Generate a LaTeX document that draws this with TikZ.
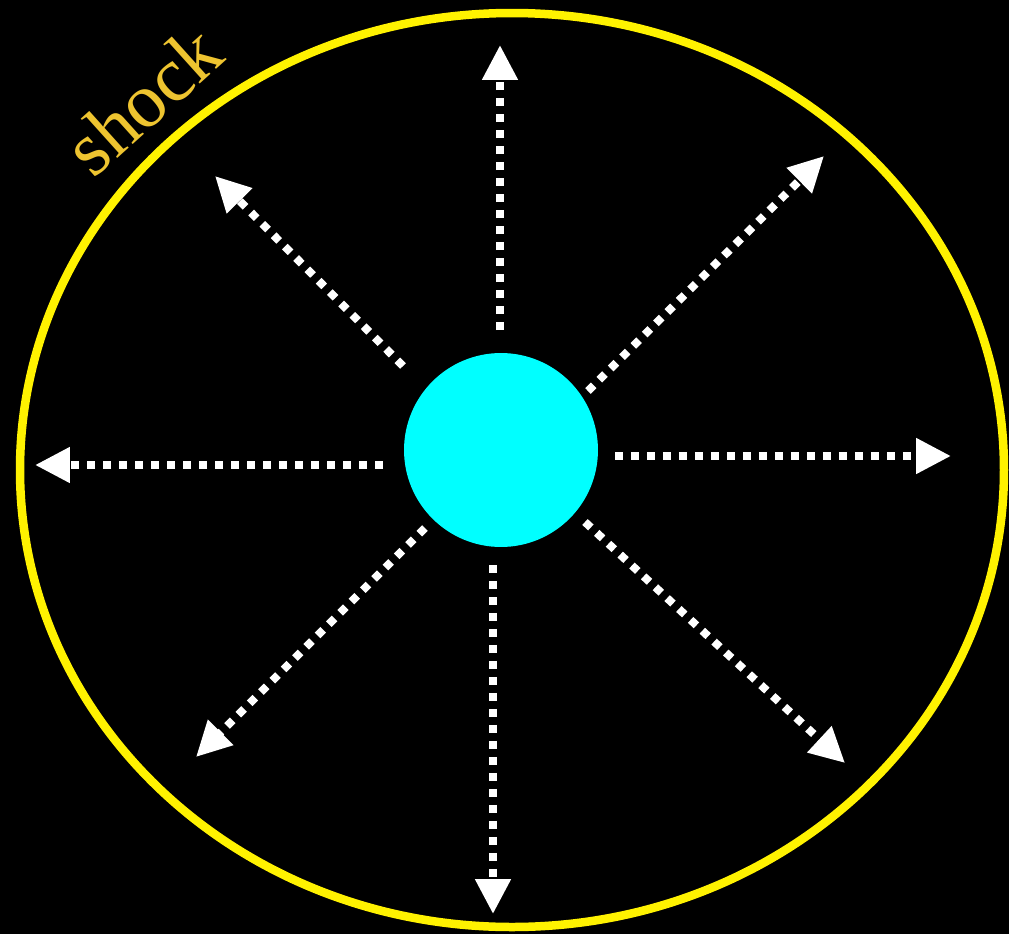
\documentclass[tikz,border=0pt]{standalone}
\usepackage{fontspec}
\newfontfamily\shockfont{Liberation Serif}
\usetikzlibrary{arrows.meta}
\definecolor{shockgold}{RGB}{238,196,48}
\definecolor{sunblue}{RGB}{0,255,255}

\begin{document}
\begin{tikzpicture}[x=0.02cm, y=-0.02cm,
    ray/.style={white, line width=0.16cm, dash pattern=on 0.16cm off 0.16cm,
        -{Triangle[length=0.7cm, width=0.68cm]}}]
    \fill[black] (0,0) rectangle (1009,934);
    \useasboundingbox (0,0) rectangle (1009,934);

    \draw[yellow, line width=0.17cm] (512,470) ellipse [x radius=492, y radius=457];
    \node[shockgold, rotate=42, font=\shockfont\fontsize{44}{48}\selectfont] (label) at (143,100) {shock};

    \node[circle, fill=sunblue, minimum size=3.88cm, inner sep=0pt] (sun) at (501,450) {};

    \coordinate (s0) at (500,330);
    \coordinate (t0) at (500,45);

    \coordinate (s1) at (588,391);
    \coordinate (t1) at (824,156);

    \coordinate (s2) at (615,456);
    \coordinate (t2) at (951,456);

    \coordinate (s3) at (585,522);
    \coordinate (t3) at (845,763);

    \coordinate (s4) at (493,565);
    \coordinate (t4) at (493,914);

    \coordinate (s5) at (425,528);
    \coordinate (t5) at (196,757);

    \coordinate (s6) at (383,465);
    \coordinate (t6) at (35,465);

    \coordinate (s7) at (403,366);
    \coordinate (t7) at (215,176);

    \draw[ray] (s0) to (t0);
    \draw[ray] (s1) to (t1);
    \draw[ray] (s2) to (t2);
    \draw[ray] (s3) to (t3);
    \draw[ray] (s4) to (t4);
    \draw[ray] (s5) to (t5);
    \draw[ray] (s6) to (t6);
    \draw[ray] (s7) to (t7);
\end{tikzpicture}
\end{document}
